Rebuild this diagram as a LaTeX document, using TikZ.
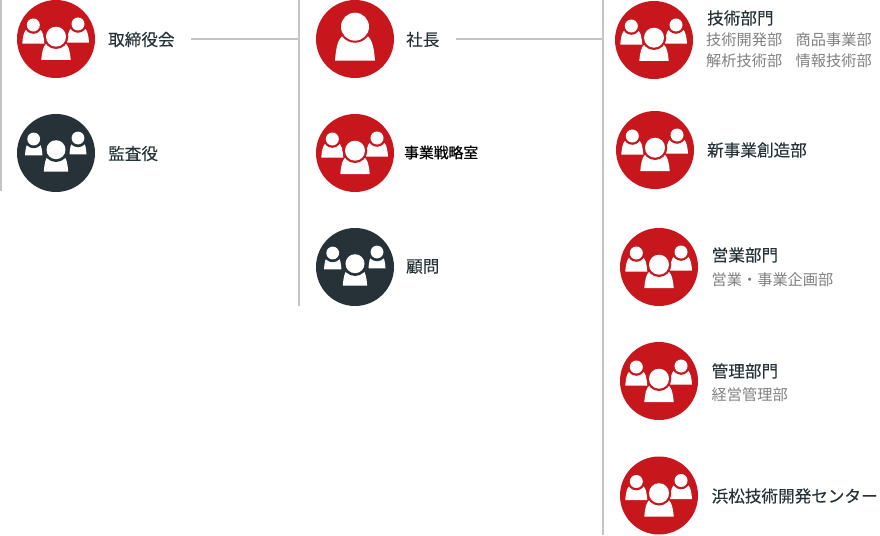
\documentclass[tikz,border=0pt]{standalone}
\usepackage{fontspec}
\setmainfont{Noto Sans CJK JP}
\newfontfamily\titlefont{Noto Sans CJK JP}[FakeBold=0.15]
\newfontfamily\strongfont{Noto Sans CJK JP}[FakeBold=0.6]
\definecolor{corpred}{HTML}{C8161D}
\definecolor{corpdark}{HTML}{263238}
\definecolor{rulegray}{HTML}{C4C4C4}
\definecolor{subgray}{HTML}{808080}
\tikzset{
	redhead/.style={circle,fill=corpred,minimum size=78pt,inner sep=0pt},
	darkhead/.style={circle,fill=corpdark,minimum size=78pt,inner sep=0pt},
	title/.style={anchor=west,inner sep=0pt,text=corpdark,font=\titlefont\fontsize{16.6pt}{18pt}\selectfont},
	subtitle/.style={anchor=west,inner sep=0pt,text=subgray,font=\fontsize{15.2pt}{17pt}\selectfont},
	rule/.style={rulegray,line width=2pt},
}
% colour, head x, head y, head radius, ring radius, half width, bottom
\newcommand{\personicon}[7]{
	\begin{scope}[shift={(#2,#3)}]
		\fill[white] (-#6,#7) .. controls ({-.9*#6},{.5*#4}) and ({-.6*#6},{.5*#4}) .. (0,{.5*#4})
			.. controls ({.6*#6},{.5*#4}) and ({.9*#6},{.5*#4}) .. (#6,#7) -- cycle;
		\fill[#1] (0,0) circle (#5);
		\fill[white] (0,0) circle (#4);
	\end{scope}
}
\tikzset{
	pics/redgroup/.style={code={
		\personicon{corpred}{-22.7}{-14}{6.5}{8.8}{11}{18.7}
		\personicon{corpred}{22}{-15}{6.5}{8.8}{11}{18.7}
		\personicon{corpred}{0}{-2.3}{10}{12.3}{14.7}{23.3}
	}},
	pics/darkgroup/.style={code={
		\personicon{corpdark}{-22.3}{-14}{6.4}{9.2}{8.7}{16.3}
		\personicon{corpdark}{22}{-15}{6.4}{9.2}{8.5}{16.3}
		\personicon{corpdark}{0}{-3.3}{9.5}{12.3}{12.2}{22}
	}},
	pics/redsingle/.style={code={
		\personicon{corpred}{0}{-12.3}{14}{16}{20}{34}
	}},
}
\begin{document}
\begin{tikzpicture}[x=1pt,y=-1pt]
	\useasboundingbox (0,0) rectangle (880,535);
	% vertical rules
	\coordinate (busatop) at (1,0);
	\coordinate (busabot) at (1,191);
	\coordinate (busbtop) at (298.5,0);
	\coordinate (busbbot) at (298.5,306);
	\coordinate (busctop) at (602.5,0);
	\coordinate (buscbot) at (602.5,535);
	\draw[rule] (busatop) -- (busabot);
	\draw[rule] (busbtop) -- (busbbot);
	\draw[rule] (busctop) -- (buscbot);
	% first column
	\node[redhead] (board) at (56,39) {};
	\pic at (board) {redgroup};
	\node[title] (boardtext) at (108,39.5) {取締役会};
	\node[darkhead] (auditor) at (56,153) {};
	\pic at (auditor) {darkgroup};
	\node[title] (auditortext) at (108,153.5) {監査役};
	% second column
	\node[redhead] (president) at (355,39) {};
	\pic at (president) {redsingle};
	\node[title] (presidenttext) at (406,39.5) {社長};
	\node[redhead] (strategy) at (355,153) {};
	\pic at (strategy) {redgroup};
	\node[title,text=black,font=\strongfont\fontsize{14.8pt}{16pt}\selectfont] (strategytext) at (404,152.5) {事業戦略室};
	\node[darkhead] (advisor) at (355,267) {};
	\pic at (advisor) {darkgroup};
	\node[title] (advisortext) at (406,266.5) {顧問};
	% third column
	\node[redhead] (tech) at (654,40) {};
	\pic at (tech) {redgroup};
	\node[title] (techtext) at (707,18) {技術部門};
	\node[subtitle] (techsuba) at (706,40) {技術開発部};
	\node[subtitle] (techsubb) at (795.5,40) {商品事業部};
	\node[subtitle] (techsubc) at (706,61) {解析技術部};
	\node[subtitle] (techsubd) at (795.5,61) {情報技術部};
	\node[redhead] (newbiz) at (655,150) {};
	\pic at (newbiz) {redgroup};
	\node[title] (newbiztext) at (707,150) {新事業創造部};
	\node[redhead] (sales) at (659,267) {};
	\pic at (sales) {redgroup};
	\node[title] (salestext) at (711.5,255) {営業部門};
	\node[subtitle] (salessub) at (711.5,280) {営業・事業企画部};
	\node[redhead] (admin) at (659,381) {};
	\pic at (admin) {redgroup};
	\node[title] (admintext) at (711.5,371) {管理部門};
	\node[subtitle] (adminsub) at (711.5,395) {経営管理部};
	\node[redhead] (hamamatsu) at (659,495.5) {};
	\pic at (hamamatsu) {redgroup};
	\node[title] (hamamatsutext) at (711.5,496) {浜松技術開発センター};
	% connectors
	\draw[rule,shorten <=16.5pt] (boardtext.east) -- (boardtext.east -| busbtop);
	\draw[rule,shorten <=16.5pt] (presidenttext.east) -- (presidenttext.east -| busctop);
\end{tikzpicture}
\end{document}
